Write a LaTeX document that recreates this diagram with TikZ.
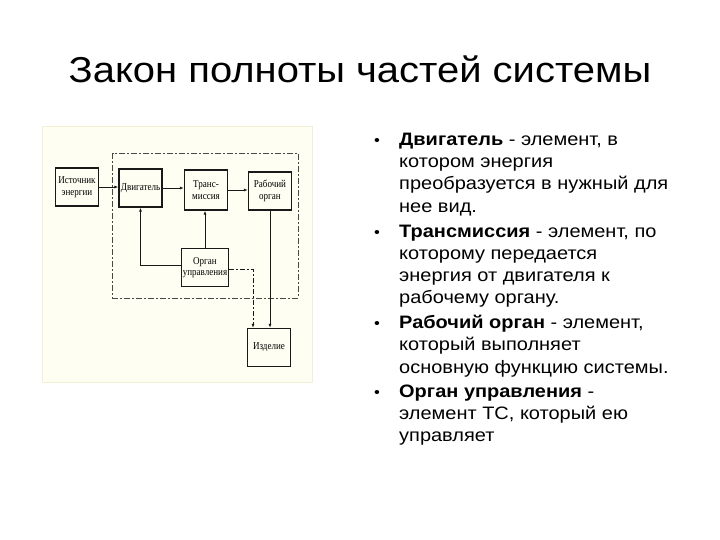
\documentclass[tikz,border=0pt]{standalone}
\usepackage{fontspec}
\setmainfont[FakeStretch=1.11]{Liberation Sans}
\newfontfamily\boxfont[FakeStretch=0.86]{Liberation Serif}
\usetikzlibrary{arrows.meta}
\definecolor{bgpale}{RGB}{254,254,242}
\definecolor{bgedge}{RGB}{240,240,210}
\definecolor{inkline}{RGB}{25,25,25}
\tikzset{
  blk/.style={draw=inkline, line width=1.3pt, minimum width=43pt, minimum height=38pt, inner sep=1pt, align=center, font=\boxfont\fontsize{10.5}{11.5}\selectfont},
  conn/.style={draw=inkline, line width=0.9pt, -{Latex[length=4pt,width=3pt]}},
  dconn/.style={draw=inkline, line width=0.9pt, dash pattern=on 5pt off 2pt on 2pt off 2pt, -{Latex[length=4pt,width=3pt]}},
  frame/.style={draw=inkline!80, line width=0.8pt, dash pattern=on 6pt off 2pt on 2pt off 2pt},
  txt/.style={anchor=base west, inner sep=0pt, font=\fontsize{18}{22}\selectfont},
  bul/.style={anchor=base, inner sep=0pt, font=\fontsize{15}{22}\selectfont},
}
\begin{document}
\begin{tikzpicture}[x=1pt,y=-1pt]
\useasboundingbox (0,0) rectangle (720,540);
\fill[white] (0,0) rectangle (720,540);
% title
\node[anchor=base, inner sep=0pt, font=\fontsize{36}{40}\selectfont] (title) at (360,83) {Закон полноты частей системы};
% diagram background
\draw[bgedge, fill=bgpale, line width=1pt] (42,127) rectangle (312,382);
% dashed system frame
\draw[frame] (112.7,153) rectangle (298,298);
% blocks
\node[blk] (ist) at (77,187) {Источник\\энергии};
\node[blk] (dv) at (140.5,188) {Двигатель};
\node[blk, minimum height=40pt] (tr) at (206,190) {Транс-\\миссия};
\node[blk] (ro) at (270,191) {Рабочий\\орган};
\node[blk] (ou) at (205,267.5) {Орган\\управления};
\node[blk] (iz) at (269,347.5) {Изделие};
% connectors
\draw[conn] (ist.east) -- (dv.west |- ist.east);
\draw[conn] (dv.east) -- (tr.west |- dv.east);
\draw[conn] (tr.east) -- (ro.west |- tr.east);
\draw[conn] ([yshift=2pt]ou.west) -| (dv.south);
\draw[conn] (ou.north) -- (ou.north |- tr.south);
\draw[conn] (ro.south) -- (ro.south |- iz.north);
\draw[dconn] ([yshift=-2pt]ou.east) -| ([xshift=-16pt]iz.north);
% bullets
\node[bul] (b1) at (377,146) {•};
\node[txt] (l1) at (399,146) {\textbf{Двигатель} - элемент, в};
\node[txt] (l2) at (399,168) {котором энергия};
\node[txt] (l3) at (399,190) {преобразуется в нужный для};
\node[txt] (l4) at (399,212) {нее вид.};
\node[bul] (b2) at (377,237) {•};
\node[txt] (l5) at (399,237) {\textbf{Трансмиссия} - элемент, по};
\node[txt] (l6) at (399,259) {которому передается};
\node[txt] (l7) at (399,281) {энергия от двигателя к};
\node[txt] (l8) at (399,303) {рабочему органу.};
\node[bul] (b3) at (377,328) {•};
\node[txt] (l9) at (399,328) {\textbf{Рабочий орган} - элемент,};
\node[txt] (l10) at (399,350) {который выполняет};
\node[txt] (l11) at (399,373) {основную функцию системы.};
\node[bul] (b4) at (377,397) {•};
\node[txt] (l12) at (399,397) {\textbf{Орган управления} -};
\node[txt] (l13) at (399,419) {элемент ТС, который ею};
\node[txt] (l14) at (399,441) {управляет};
\end{tikzpicture}
\end{document}
